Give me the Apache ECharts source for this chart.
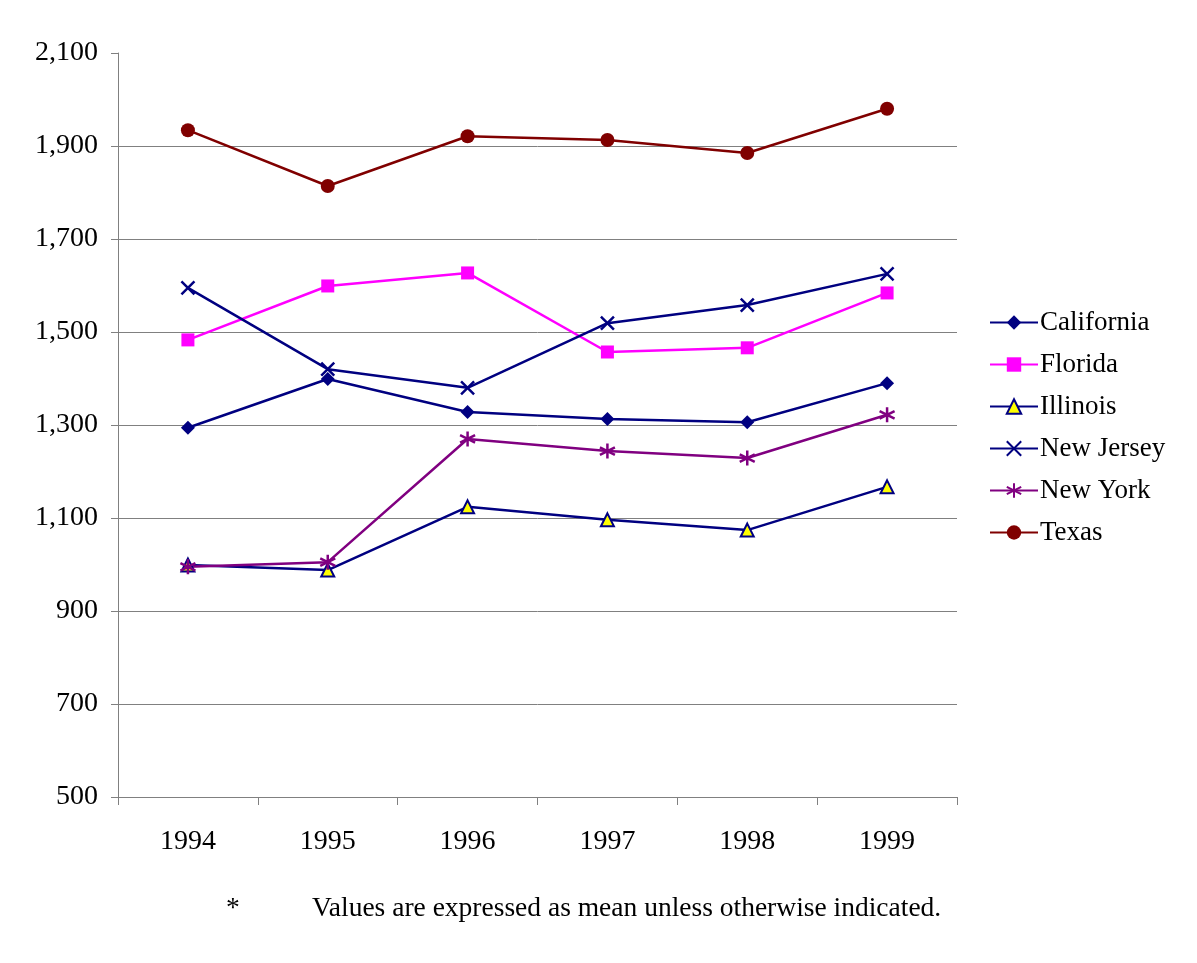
<!DOCTYPE html>
<html><head><meta charset="utf-8">
<script src="https://cdn.jsdelivr.net/npm/echarts@6/dist/echarts.min.js"></script>
<style>html,body{margin:0;padding:0;background:#fff}#c{width:1197px;height:963px}</style>
</head><body><div id="c"></div>
<script>
const years = ['1994','1995','1996','1997','1998','1999'];
const california = [1294, 1399, 1328, 1313, 1306, 1390];
const florida    = [1483, 1599, 1627, 1457, 1466, 1584];
const illinois   = [999, 988, 1124, 1096, 1074, 1167];
const newJersey  = [1595, 1420, 1380, 1519, 1558, 1625];
const newYork    = [995, 1005, 1270, 1244, 1229, 1322];
const texas      = [1934, 1814, 1921, 1913, 1885, 1980];
const yTicks = [500, 700, 900, 1100, 1300, 1500, 1700, 1900, 2100];
const footnoteMark = '*';
const footnoteText = 'Values are expressed as mean unless otherwise indicated.';

const FONT = '"Liberation Serif", "DejaVu Serif", serif';
const X_PATH = 'path://M0,0L10,10M10,0L0,10';
const AST_PATH = 'path://M5,0L5,10M0.7,2.5L9.3,7.5M0.7,7.5L9.3,2.5';

function series(name, data, color, symbol, size, opts) {
  return Object.assign({
    name, type: 'line', data, symbol, symbolSize: size,
    lineStyle: { color, width: 2.5 },
    itemStyle: { color, borderColor: color, borderWidth: 0 },
    emphasis: { disabled: true }, animation: false
  }, opts || {});
}

const chart = echarts.init(document.getElementById('c'));
chart.setOption({
  animation: false,
  grid: { left: 118, right: 240, top: 53, bottom: 166, containLabel: false },
  legend: {
    orient: 'vertical', left: 984, top: 304, itemGap: 15,
    itemWidth: 48, itemHeight: 18,
    textStyle: { fontFamily: FONT, fontSize: 27, color: '#000', padding: [0,0,0,-3] },
    data: ['California','Florida','Illinois','New Jersey','New York','Texas']
  },
  xAxis: {
    type: 'category', data: years, boundaryGap: true,
    axisLine: { lineStyle: { color: '#808080', width: 1 } },
    axisTick: { show: true, length: 8, lineStyle: { color: '#808080' } },
    axisLabel: { fontFamily: FONT, fontSize: 28, color: '#000', margin: 31 }
  },
  yAxis: {
    type: 'value', min: yTicks[0], max: yTicks[yTicks.length-1], interval: 200,
    axisLine: { show: true, lineStyle: { color: '#808080', width: 1 } },
    axisTick: { show: true, length: 7, lineStyle: { color: '#808080' } },
    axisLabel: { fontFamily: FONT, fontSize: 28, color: '#000', margin: 20,
      formatter: v => Number(v).toLocaleString('en-US') },
    splitLine: { show: true, lineStyle: { color: ['#808080','#808080','#808080','#808080','#808080','#808080','#808080','#808080','rgba(0,0,0,0)'], width: 1 } }
  },
  series: [
    series('California', california, '#000080', 'diamond', 14),
    series('Florida', florida, '#FF00FF', 'rect', 13),
    series('Illinois', illinois, '#000080', 'triangle', 13,
      { itemStyle: { color: '#FFFF00', borderColor: '#000080', borderWidth: 2 } }),
    series('New Jersey', newJersey, '#000080', X_PATH, 13,
      { itemStyle: { color: 'rgba(0,0,0,0)', borderColor: '#000080', borderWidth: 2.5 } }),
    series('New York', newYork, '#800080', AST_PATH, 15,
      { itemStyle: { color: 'rgba(0,0,0,0)', borderColor: '#800080', borderWidth: 2.5 } }),
    series('Texas', texas, '#800000', 'circle', 14)
  ],
  graphic: [
    { type: 'text', left: 226, top: 895, style: { text: footnoteMark, fontFamily: FONT, fontSize: 27.5, fill: '#000' } },
    { type: 'text', left: 312, top: 895, style: { text: footnoteText, fontFamily: FONT, fontSize: 27.5, fill: '#000' } }
  ]
});
</script></body></html>
